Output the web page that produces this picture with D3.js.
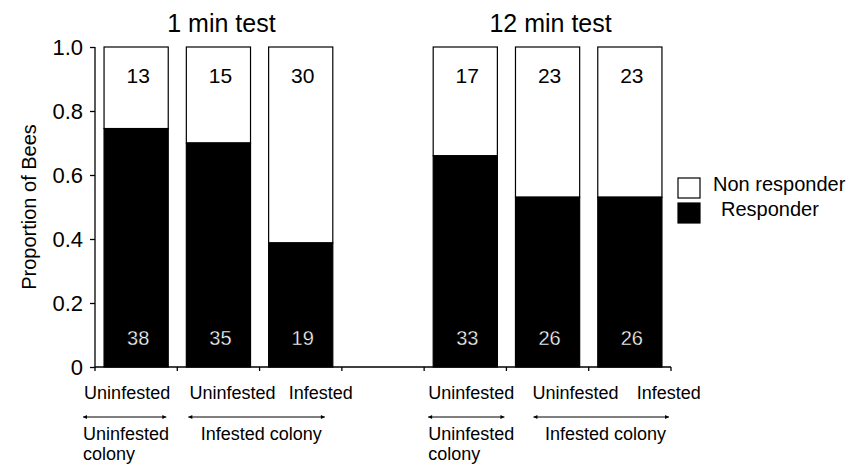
<!DOCTYPE html>
<html>
<head>
<meta charset="utf-8">
<script src="https://cdn.jsdelivr.net/npm/d3@7"></script>
<style>
  html, body { margin: 0; padding: 0; background: #fff; }
  svg { display: block; font-family: "Liberation Sans", Arial, Helvetica, sans-serif; }
</style>
</head>
<body>
<svg id="chart" width="851" height="464"></svg>
<script>
// Test durations (one panel each)
const testLabels = ["1 min test", "12 min test"];
// Bee status for the three bars in each panel
const beeLabels = ["Uninfested", "Uninfested", "Infested"];
// Colony source spanning the bars
const colonyLabels = [["Uninfested", "colony"], ["Infested colony"]];
// Bee counts per bar
const responders = [[38, 35, 19], [33, 26, 26]];
const nonResponders = [[13, 15, 30], [17, 23, 23]];
// Axis ticks and legend
const yTicks = [0, 0.2, 0.4, 0.6, 0.8, 1.0];
const yTickLabels = ["0", "0.2", "0.4", "0.6", "0.8", "1.0"];
const yTitle = "Proportion of Bees";
const legendLabels = ["Non responder", "Responder"];

const svg = d3.select("#chart");
const font = '"Liberation Sans", Arial, Helvetica, sans-serif';

// Slots: three bars, an empty gap, three bars
const slotKeys = ["a0", "a1", "a2", "gap", "b0", "b1", "b2"];
const panelSlots = [["a0", "a1", "a2"], ["b0", "b1", "b2"]];

const x = d3.scaleBand().domain(slotKeys).range([95, 671])
  .paddingInner(0.22).paddingOuter(0.11);
const y = d3.scaleLinear().domain([0, 1]).range([367, 47]);
const step = x.step();
const x0 = x.range()[0];

// Flatten into bar records
const bars = [];
panelSlots.forEach((slots, p) => {
  slots.forEach((key, i) => {
    const r = responders[p][i], n = nonResponders[p][i];
    bars.push({ key, panel: p, idx: i, r, n, prop: r / (r + n) });
  });
});

const g = svg.append("g");

// Non-responder (white) portion
g.selectAll("rect.non").data(bars).join("rect")
  .attr("class", "non")
  .attr("x", d => x(d.key)).attr("width", x.bandwidth())
  .attr("y", y(1)).attr("height", d => y(d.prop) - y(1))
  .attr("fill", "#fff").attr("stroke", "#000").attr("stroke-width", 1.2);

// Responder (black) portion
g.selectAll("rect.resp").data(bars).join("rect")
  .attr("class", "resp")
  .attr("x", d => x(d.key)).attr("width", x.bandwidth())
  .attr("y", d => y(d.prop)).attr("height", d => y(0) - y(d.prop))
  .attr("fill", "#000").attr("stroke", "#000").attr("stroke-width", 1.2);

// Counts
g.selectAll("text.nlab").data(bars).join("text")
  .attr("class", "nlab")
  .attr("x", d => x(d.key) + x.bandwidth() / 2 + 2)
  .attr("y", y(1) + 36)
  .attr("text-anchor", "middle").attr("font-size", 21).attr("fill", "#000")
  .text(d => d.n);

// White counts drawn with a fine dark outline so the strokes read thin
g.selectAll("text.rlab").data(bars).join("text")
  .attr("class", "rlab")
  .attr("x", d => x(d.key) + x.bandwidth() / 2 + 2)
  .attr("y", y(0) - 22)
  .attr("text-anchor", "middle").attr("font-size", 20).attr("fill", "#fff")
  .attr("stroke", "#000").attr("stroke-width", 0.35)
  .text(d => d.r);

// Y axis
const yAxis = d3.axisLeft(y).tickValues(yTicks)
  .tickFormat((d, i) => yTickLabels[i]).tickSize(5).tickPadding(7);
const ya = svg.append("g").attr("transform", `translate(${x0},0)`).call(yAxis);
ya.select(".domain").attr("stroke", "#000").attr("stroke-width", 1.3).attr("d", `M0,${y(1)}V${y(0)}`);
ya.selectAll(".tick line").attr("stroke", "#000").attr("stroke-width", 1.3);
ya.selectAll(".tick text").attr("font-family", font).attr("font-size", 22).attr("fill", "#000");

// X axis: baseline with ticks at every slot boundary
const boundaries = d3.range(slotKeys.length + 1).map(i => x0 + i * step);
const xa = svg.append("g");
xa.append("line").attr("x1", x0).attr("x2", boundaries[boundaries.length - 1])
  .attr("y1", y(0)).attr("y2", y(0)).attr("stroke", "#000").attr("stroke-width", 1.3);
xa.selectAll("line.tk").data(boundaries).join("line").attr("class", "tk")
  .attr("x1", d => d).attr("x2", d => d)
  .attr("y1", y(0)).attr("y2", y(0) + 4).attr("stroke", "#000").attr("stroke-width", 1.3);

// Y title
svg.append("text")
  .attr("transform", `translate(36,${(y(0) + y(1)) / 2}) rotate(-90)`)
  .attr("text-anchor", "middle").attr("font-size", 20).attr("fill", "#000")
  .text(yTitle);

// Panel titles
panelSlots.forEach((slots, p) => {
  svg.append("text")
    .attr("x", x(slots[1]) + x.bandwidth() / 2 + 3)
    .attr("y", 32)
    .attr("text-anchor", "middle").attr("font-size", 25).attr("fill", "#000")
    .text(testLabels[p]);
});

// Bee status labels under each bar (offsets from bar centre)
const beeOffsets = [[-9, 14, 20], [6, 28, 39]];
panelSlots.forEach((slots, p) => {
  slots.forEach((key, i) => {
    svg.append("text")
      .attr("x", x(key) + x.bandwidth() / 2 + beeOffsets[p][i])
      .attr("y", 399)
      .attr("text-anchor", "middle").attr("font-size", 18).attr("fill", "#000")
      .text(beeLabels[i]);
  });
});

// Colony arrows and labels
const arrowY = 417;
const colonySpans = [
  // arrow start/end and text x given as [slot boundary, pixel offset]
  { c: 0, from: [0, -12], to: [1, -11], tx: [0, -12], anchor: "start" },
  { c: 1, from: [1, 11], to: [3, -17], tx: [1, 84], anchor: "middle" },
  { c: 0, from: [4, 4], to: [5, -2], tx: [4, 4], anchor: "start" },
  { c: 1, from: [5, 27], to: [7, -2], tx: [5, 99], anchor: "middle" }
];

const defs = svg.append("defs");
["start", "end"].forEach(kind => {
  defs.append("marker")
    .attr("id", "ah-" + kind)
    .attr("viewBox", "0 0 10 10").attr("refX", kind === "end" ? 10 : 0).attr("refY", 5)
    .attr("markerWidth", 5).attr("markerHeight", 4).attr("markerUnits", "userSpaceOnUse")
    .attr("orient", "auto")
    .append("path")
    .attr("d", kind === "end" ? "M0,0L10,5L0,10Z" : "M10,0L0,5L10,10Z")
    .attr("fill", "#000");
});

colonySpans.forEach(s => {
  const xs = boundaries[s.from[0]] + s.from[1];
  const xe = boundaries[s.to[0]] + s.to[1];
  svg.append("line")
    .attr("x1", xs).attr("x2", xe).attr("y1", arrowY).attr("y2", arrowY)
    .attr("stroke", "#000").attr("stroke-width", 1)
    .attr("marker-start", "url(#ah-start)").attr("marker-end", "url(#ah-end)");
  const lines = colonyLabels[s.c];
  const tx = boundaries[s.tx[0]] + s.tx[1];
  lines.forEach((ln, k) => {
    svg.append("text")
      .attr("x", tx).attr("y", 440 + k * 20)
      .attr("text-anchor", s.anchor).attr("font-size", 18).attr("fill", "#000")
      .text(ln);
  });
});

// Legend
const legend = svg.append("g").attr("transform", "translate(678,178)");
const legendItems = [
  { label: legendLabels[0], fill: "#fff", dx: 35, dy: 0 },
  { label: legendLabels[1], fill: "#000", dx: 43, dy: 25 }
];
legendItems.forEach(it => {
  legend.append("rect")
    .attr("x", 0).attr("y", it.dy).attr("width", 22).attr("height", 20)
    .attr("fill", it.fill).attr("stroke", "#000").attr("stroke-width", 1.2);
  legend.append("text")
    .attr("x", it.dx).attr("y", it.dy + 13)
    .attr("font-size", 20).attr("fill", "#000")
    .text(it.label);
});
</script>
</body>
</html>
